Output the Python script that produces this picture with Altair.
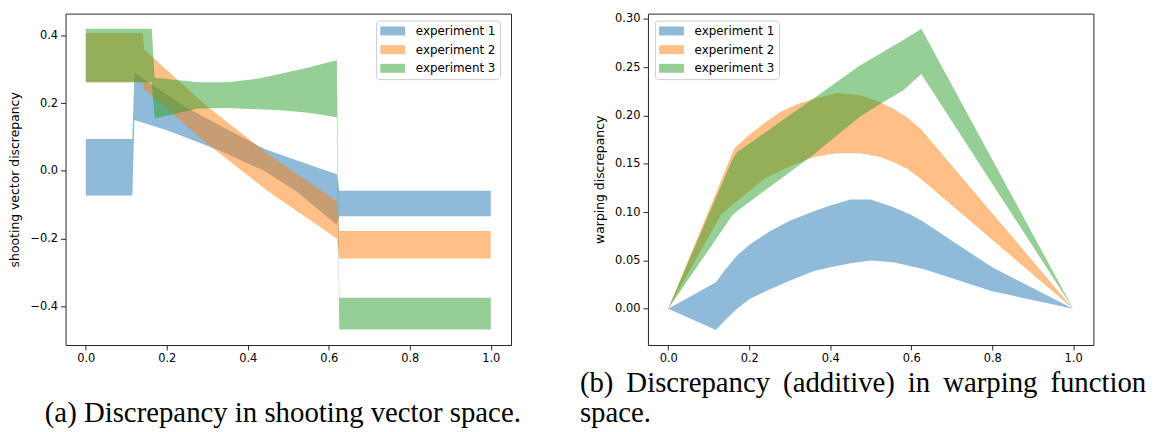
import altair as alt
import pandas as pd

series_names = ["experiment 1", "experiment 2", "experiment 3"]
colors = ["#1f77b4", "#ff7f0e", "#2ca02c"]

# ---------- Panel (a): shooting vector space ----------
a1_x = [0.0, 0.115, 0.12, 0.2, 0.244, 0.33, 0.44, 0.52, 0.62, 0.626, 1.0]
a1_hi = [0.094, 0.094, 0.29, 0.225, 0.19, 0.135, 0.065, 0.031, -0.01, -0.059, -0.059]
a1_lo = [-0.073, -0.073, 0.15, 0.12, 0.1, 0.06, 0.0, -0.06, -0.16, -0.134, -0.134]

a2_x = [0.0, 0.14, 0.145, 0.3, 0.45, 0.62, 0.626, 1.0]
a2_hi = [0.407, 0.407, 0.357, 0.19, 0.05, -0.09, -0.178, -0.178]
a2_lo = [0.262, 0.262, 0.24, 0.08, -0.06, -0.2, -0.259, -0.259]

a3_x = [0.0, 0.163, 0.17, 0.277, 0.35, 0.424, 0.473, 0.55, 0.62, 0.626, 1.0]
a3_hi = [0.42, 0.42, 0.275, 0.262, 0.262, 0.272, 0.285, 0.305, 0.327, -0.375, -0.375]
a3_lo = [0.262, 0.262, 0.155, 0.184, 0.186, 0.182, 0.18, 0.172, 0.158, -0.469, -0.469]

# ---------- Panel (b): warping function space ----------
b1_x = [0.0, 0.118, 0.14, 0.17, 0.2, 0.25, 0.3, 0.36, 0.4, 0.45, 0.5, 0.556, 0.6, 0.63, 0.72, 0.8, 1.0]
b1_hi = [0.0, 0.0275, 0.04, 0.055, 0.066, 0.08, 0.091, 0.101, 0.107, 0.113, 0.113, 0.105, 0.097, 0.09, 0.065, 0.043, 0.0]
b1_lo = [0.0, -0.022, -0.012, 0.0, 0.0097, 0.02, 0.029, 0.039, 0.043, 0.047, 0.05, 0.048, 0.044, 0.041, 0.029, 0.018, 0.0]

b2_x = [0.0, 0.13, 0.163, 0.2, 0.228, 0.24, 0.278, 0.32, 0.36, 0.417, 0.474, 0.523, 0.556, 0.59, 0.622, 1.0]
b2_hi = [0.0, 0.132, 0.166, 0.18, 0.189, 0.193, 0.204, 0.212, 0.2175, 0.2234, 0.221, 0.214, 0.207, 0.198, 0.187, 0.0]
b2_lo = [0.0, 0.097, 0.109, 0.122, 0.1316, 0.135, 0.143, 0.151, 0.157, 0.161, 0.161, 0.157, 0.152, 0.145, 0.135, 0.0]

b3_x = [0.0, 0.159, 0.17, 0.268, 0.36, 0.474, 0.523, 0.58, 0.625, 1.0]
b3_hi = [0.0, 0.155, 0.162, 0.191, 0.218, 0.252, 0.264, 0.278, 0.29, 0.0]
b3_lo = [0.0, 0.097, 0.101, 0.1316, 0.16, 0.199, 0.212, 0.226, 0.243, 0.0]

x_ticks = [0.0, 0.2, 0.4, 0.6, 0.8, 1.0]
a_y_ticks = [-0.4, -0.2, 0.0, 0.2, 0.4]
b_y_ticks = [0.0, 0.05, 0.10, 0.15, 0.20, 0.25, 0.30]

caption_a = "(a) Discrepancy in shooting vector space."
caption_b = ["(b) \u2009Discrepancy \u2009(additive) \u2009in \u2009warping \u2009function", "space."]


def band(xs, lo, hi, name):
    return pd.DataFrame({"x": xs, "lo": lo, "hi": hi, "series": name})


df_a = pd.concat([band(a1_x, a1_lo, a1_hi, series_names[0]),
                  band(a2_x, a2_lo, a2_hi, series_names[1]),
                  band(a3_x, a3_lo, a3_hi, series_names[2])], ignore_index=True)
df_b = pd.concat([band(b1_x, b1_lo, b1_hi, series_names[0]),
                  band(b2_x, b2_lo, b2_hi, series_names[1]),
                  band(b3_x, b3_lo, b3_hi, series_names[2])], ignore_index=True)

# wide flat rectangle swatch (25 x 9 px with symbolSize 156)
rect_path = "M-1,-0.72H3V0.72H-1Z"


def legend(lx, ly):
    return alt.Legend(
        title=None, orient="none", legendX=lx, legendY=ly,
        symbolType=rect_path, symbolSize=156, symbolOpacity=0.5,
        symbolStrokeWidth=0, labelFont="DejaVu Sans", labelFontSize=12,
        labelColor="#000000", labelOffset=23, padding=4, rowPadding=5.8,
        strokeColor="#cccccc", fillColor="#ffffff", cornerRadius=3,
    )


def panel(df, ydomain, yticks, yfmt, ytitle, lx, ly, title):
    return alt.Chart(df, title=title).mark_area(opacity=0.5, interpolate="linear").encode(
        x=alt.X("x:Q", scale=alt.Scale(domain=[-0.05, 1.05], nice=False, zero=False),
                axis=alt.Axis(values=x_ticks, format=".1f", title=None)),
        y=alt.Y("hi:Q", scale=alt.Scale(domain=ydomain, nice=False, zero=False),
                axis=alt.Axis(values=yticks, format=yfmt, title=ytitle)),
        y2="lo:Q",
        color=alt.Color("series:N", scale=alt.Scale(domain=series_names, range=colors),
                        legend=legend(lx, ly)),
    ).properties(width=449, height=334)


title_a = alt.TitleParams(text=caption_a, orient="bottom", anchor="start",
                          font="Liberation Serif", fontSize=29, fontWeight="normal",
                          color="#000000", offset=35, dx=36)
title_b = alt.TitleParams(text=caption_b, orient="bottom", anchor="start",
                          font="Liberation Serif", fontSize=29, fontWeight="normal",
                          color="#000000", offset=5, dx=-14, lineHeight=30)

left = panel(df_a, [-0.5145, 0.4645], a_y_ticks, ".1f", "shooting vector discrepancy",
             313, 7, title_a)
right = panel(df_b, [-0.0376, 0.3056], b_y_ticks, ".2f", "warping discrepancy",
              7, 7, title_b)

chart = alt.hconcat(left, right, spacing=57).resolve_scale(color="independent").resolve_legend(
    color="independent"
).properties(
    padding={"left": 0, "top": 2, "right": 2, "bottom": 0},
    background="#ffffff",
).configure_view(
    stroke="#262626", strokeWidth=1
).configure_axis(
    domain=False, grid=False, tickColor="#262626", tickSize=5, tickWidth=1,
    labelFont="DejaVu Sans", labelFontSize=11.5, labelColor="#000000", labelPadding=3,
    titleFont="DejaVu Sans", titleFontSize=12.5, titleFontWeight="normal",
    titleColor="#000000", titlePadding=8,
)

chart.save("out.html", embed_options={"renderer": "svg", "actions": False})
